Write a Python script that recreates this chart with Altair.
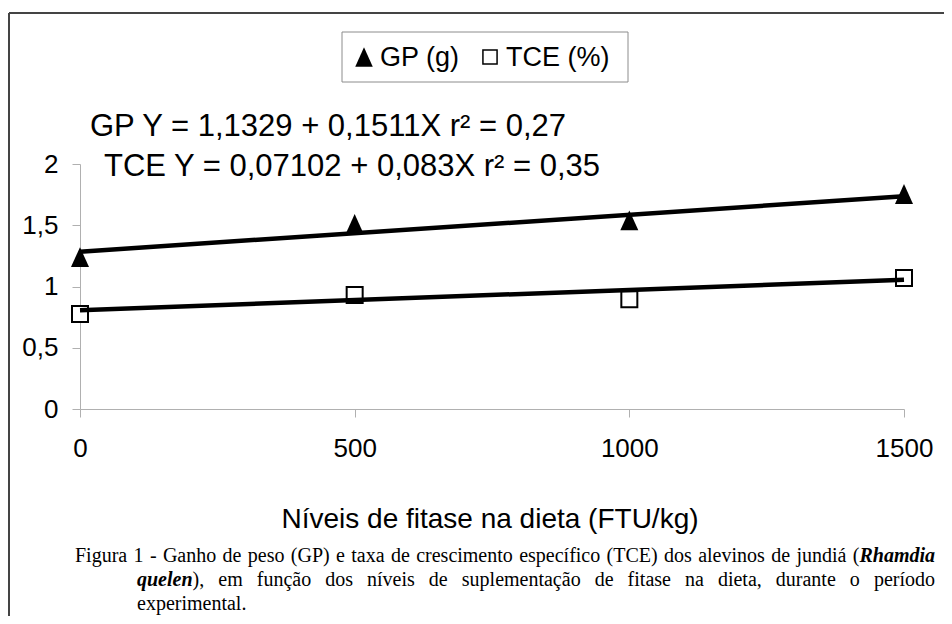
import unicodedata
import altair as alt
import pandas as pd

# ---------------- data ----------------
levels = [0, 500, 1000, 1500]
gp_values = [1.24, 1.51, 1.54, 1.755]
tce_values = [0.775, 0.93, 0.895, 1.07]
trend_x = [0, 1500]
gp_trend = [1.284, 1.737]
tce_trend = [0.806, 1.055]
series_names = ["GP (g)", "TCE (%)"]
y_ticks = [0, 0.5, 1, 1.5, 2]
x_ticks = [0, 500, 1000, 1500]
eq_gp = "GP Y = 1,1329 + 0,1511X r² = 0,27"
eq_tce = "TCE Y = 0,07102 + 0,083X r² = 0,35"
x_title = "Níveis de fitase na dieta (FTU/kg)"
caption_line1 = "Figura 1 - Ganho de peso (GP) e taxa de crescimento específico (TCE) dos alevinos de jundiá"
caption_line1_tail = ("(", "Rhamdia")
caption_line2_head = ("quelen", "),")
caption_line2 = "em função dos níveis de suplementação de fitase na dieta, durante o período"
caption_line3 = "experimental."

# ---------------- layout helpers ----------------
OX, OY = 80, 164          # page position of plot origin
W, H = 824, 245
SANS = "Liberation Sans"
SERIF = "Liberation Serif"


def px(x):
    return x - OX


def py(y):
    return y - OY


TIMES = {'a': .444, 'b': .5, 'c': .444, 'd': .5, 'e': .444, 'f': .333, 'g': .5, 'h': .5,
         'i': .278, 'j': .278, 'k': .5, 'l': .278, 'm': .778, 'n': .5, 'o': .5, 'p': .5,
         'q': .5, 'r': .333, 's': .389, 't': .278, 'u': .5, 'v': .5, 'w': .722, 'x': .5,
         'y': .5, 'z': .444, 'A': .722, 'C': .667, 'E': .611, 'F': .556, 'G': .722,
         'P': .556, 'R': .667, 'T': .611, '(': .333, ')': .333, '-': .333, ',': .25,
         '.': .25, ' ': .25}
TIMES_BI = {'R': .667, 'h': .556, 'a': .5, 'm': .778, 'd': .5, 'i': .278, 'q': .5,
            'u': .556, 'e': .444, 'l': .278, 'n': .556}


def tw(s, size, bi=False):
    tot = 0.0
    for ch in s:
        b = unicodedata.normalize("NFD", ch)[0]
        tab = TIMES_BI if bi else TIMES
        tot += tab.get(b, TIMES.get(b, 0.5))
    return tot * size


CAP_SIZE = 20


def justify(words, x0, x1, base):
    """words: list of list of (text, bold_italic). returns segments."""
    widths = [sum(tw(t, CAP_SIZE, b) for t, b in w) for w in words]
    gap = (x1 - x0 - sum(widths)) / (len(words) - 1)
    segs = []
    x = x0
    for w, wd in zip(words, widths):
        cx = x
        for t, b in w:
            segs.append((t, b, cx, base))
            cx += tw(t, CAP_SIZE, b)
        x += wd + gap
    return segs


line1_words = [[(w, False)] for w in caption_line1.split()] + \
    [[(caption_line1_tail[0], False), (caption_line1_tail[1], True)]]
line2_words = [[(caption_line2_head[0], True), (caption_line2_head[1], False)]] + \
    [[(w, False)] for w in caption_line2.split()]
segments = justify(line1_words, 75, 935, 562) + justify(line2_words, 137, 935, 586) + \
    [(caption_line3, False, 137, 610)]

# ---------------- chart ----------------
pts = pd.DataFrame({
    "x": levels * 2,
    "y": gp_values + tce_values,
    "s": [series_names[0]] * 4 + [series_names[1]] * 4,
})
trend = pd.DataFrame({
    "x": trend_x * 2,
    "y": gp_trend + tce_trend,
    "s": [series_names[0]] * 2 + [series_names[1]] * 2,
})

xenc = alt.X("x:Q", scale=alt.Scale(domain=[0, 1500], nice=False, zero=False),
             axis=alt.Axis(values=x_ticks, title=None, grid=False, domainColor="#b0b0b0",
                           tickColor="#b0b0b0", tickSize=8, labelFontSize=26, labelFont=SANS,
                           labelColor="black", labelPadding=18, format="d",
                           labelFlush=False))
yenc = alt.Y("y:Q", scale=alt.Scale(domain=[0, 2], nice=False),
             axis=alt.Axis(values=y_ticks, title=None, grid=False, domainColor="#b0b0b0",
                           tickColor="#b0b0b0", tickSize=8, labelFontSize=26, labelFont=SANS,
                           labelColor="black", labelPadding=14,
                           labelExpr="replace(datum.value + '', '.', ',')"))

TRI = "M0,-1.05L0.95,1.05L-0.95,1.05Z"

tri = alt.Chart(pts[pts.s == series_names[0]]).mark_point(
    shape=TRI, filled=True, color="black", size=360, opacity=1
).encode(x=xenc, y=yenc)
sq = alt.Chart(pts[pts.s == series_names[1]]).mark_point(
    shape="square", filled=True, fill="white", stroke="black", strokeWidth=2, size=256, opacity=1
).encode(x=xenc, y=yenc)
lines = alt.Chart(trend).mark_line(color="black", strokeWidth=4.5).encode(
    x=xenc, y=yenc, detail="s:N")

one = pd.DataFrame({"k": [0]})
layers = [tri, sq, lines]


def txt(text, x, y, size, font=SANS, align="left", baseline="middle", style="normal",
        weight="normal"):
    return alt.Chart(one).mark_text(
        text=text, align=align, baseline=baseline, font=font, fontSize=size,
        fontStyle=style, fontWeight=weight, color="black"
    ).encode(x=alt.value(px(x)), y=alt.value(py(y)))


# outer border
border_h = alt.Chart(one).mark_rule(color="#444444", strokeWidth=2).encode(
    x=alt.value(px(9)), x2=alt.value(px(960)), y=alt.value(py(13)))
border_v = alt.Chart(one).mark_rule(color="#444444", strokeWidth=2).encode(
    x=alt.value(px(9)), y=alt.value(py(13)), y2=alt.value(py(640)))
layers += [border_h, border_v]

# legend box
legbox = alt.Chart(one).mark_rect(fill="white", stroke="#8c8c8c", strokeWidth=1).encode(
    x=alt.value(px(342)), x2=alt.value(px(628)), y=alt.value(py(32)), y2=alt.value(py(82)))
leg_tri = alt.Chart(one).mark_point(shape=TRI, filled=True, color="black", size=340,
                                    opacity=1).encode(
    x=alt.value(px(364)), y=alt.value(py(57)))
leg_sq = alt.Chart(one).mark_point(shape="square", filled=True, fill="white", stroke="black",
                                   strokeWidth=1.5, size=200, opacity=1).encode(
    x=alt.value(px(490)), y=alt.value(py(57)))
layers += [legbox, leg_tri, leg_sq,
           txt(series_names[0], 380, 58, 27),
           txt(series_names[1], 506, 58, 27)]

# equations
layers += [txt(eq_gp, 90, 127, 31), txt(eq_tce, 104, 167, 31)]

# x-axis title
layers += [txt(x_title, 490, 520, 28, align="center")]

# caption
for t, bi, x, y in segments:
    layers.append(txt(t, x, y, CAP_SIZE, font=SERIF, baseline="alphabetic",
                      style="italic" if bi else "normal",
                      weight="bold" if bi else "normal"))

chart = alt.layer(*layers).properties(
    width=W, height=H,
    autosize=alt.AutoSizeParams(type="none"),
    padding={"left": 72, "top": 156, "right": 40, "bottom": 207},
    background="white",
).configure_view(strokeWidth=0)

chart.save("out.html", embed_options={"renderer": "svg", "actions": False})
